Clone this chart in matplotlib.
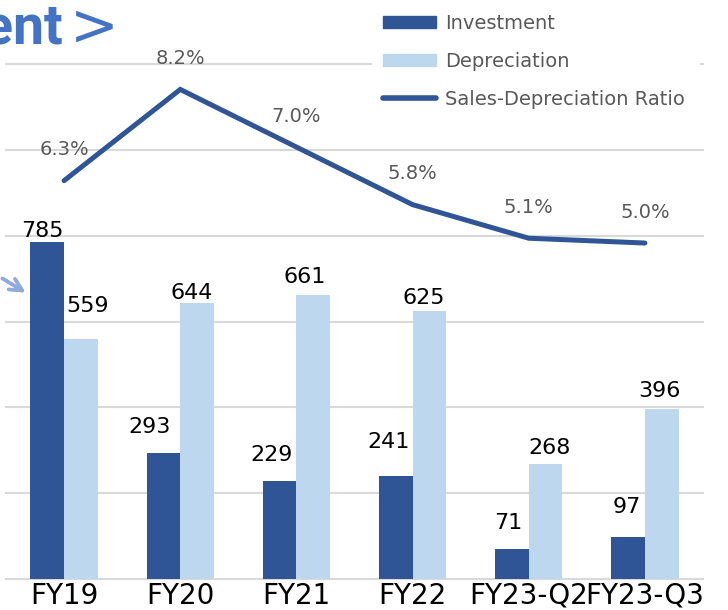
import numpy as np
import matplotlib
matplotlib.use("Agg")
import matplotlib.pyplot as plt
from matplotlib.patches import Patch, Rectangle
from matplotlib.lines import Line2D

# datos
periodos = ["FY19", "FY20", "FY21", "FY22", "FY23-Q2", "FY23-Q3"]
inversion = [785, 293, 229, 241, 71, 97]
depreciacion = [559, 644, 661, 625, 268, 396]
ratio = [6.3, 8.2, 7.0, 5.8, 5.1, 5.0]
ratio_txt = ["6.3%", "8.2%", "7.0%", "5.8%", "5.1%", "5.0%"]

# desplazamiento de etiquetas (pixeles)
off_inv = [(-5, 11), (-14, 26), (-8, 26), (-7, 34), (-4, 26), (-1, 30)]
off_dep = [(7, 33), (-5, 10), (-9, 18), (-6, 13), (4, 16), (-2, 18)]

azul = "#2F5597"
celeste = "#BDD7EE"
gris = "#595959"

W, H = 728, 610
fig = plt.figure(figsize=(W / 100, H / 100), dpi=100)
ax = fig.add_axes([6 / W, (H - 579) / H, (703 - 6) / W, (579 - 64) / H])

x = np.arange(len(periodos))
ancho = 0.29
b1 = ax.bar(x - ancho / 2, inversion, ancho, color=azul, zorder=2)
b2 = ax.bar(x + ancho / 2, depreciacion, ancho, color=celeste, zorder=2)

for i in range(len(x)):
    ax.annotate(str(inversion[i]), (x[i] - ancho / 2, inversion[i]),
                xytext=off_inv[i], textcoords="offset pixels",
                ha="center", va="center", fontsize=16, color="black")
    ax.annotate(str(depreciacion[i]), (x[i] + ancho / 2, depreciacion[i]),
                xytext=off_dep[i], textcoords="offset pixels",
                ha="center", va="center", fontsize=16, color="black")

ax.set_xlim(-0.5, 5.5)
ax.set_ylim(0, 1200)
ax.set_yticks(np.arange(0, 1201, 200))
ax.yaxis.grid(True, color="#D9D9D9", linewidth=1.5, zorder=0)
for gl in ax.get_ygridlines():
    gl.set_clip_on(False)
ax.set_axisbelow(True)
ax.set_xticks(x)
ax.set_xticklabels(periodos, fontsize=20)
for s in ax.spines.values():
    s.set_visible(False)

ax2 = ax.twinx()
ax2.plot(x, ratio, color=azul, linewidth=3.6, solid_capstyle="round",
         solid_joinstyle="miter", zorder=3)
ax2.set_ylim(-2.0, 8.73)
ax2.set_xlim(-0.5, 5.5)
for i in range(len(x)):
    ax2.annotate(ratio_txt[i], (x[i], ratio[i]), xytext=(0, 31),
                 textcoords="offset pixels", ha="center", va="center",
                 fontsize=14, color=gris)
ax2.axis("off")

# despues de twinx, si no vuelven los ticks
ax.tick_params(axis="y", left=False, right=False, labelleft=False, labelright=False)
ax.tick_params(axis="x", length=0, pad=2)

# fondo blanco de la leyenda (tapa la linea de grilla de arriba)
fig.add_artist(Rectangle((372 / W, 1 - 118 / H), (700 - 372) / W, 118 / H,
                         transform=fig.transFigure, facecolor="white",
                         edgecolor="none", zorder=1))

# titulo recortado
fig.text(63 / W, 1 - 43 / H, "ent", fontsize=40, fontweight="bold",
         family="Roboto", color="#4472C4", ha="right", va="baseline")
fig.text(70 / W, 1 - 28 / H, ">", fontsize=42, color="#4472C4",
         ha="left", va="center")

# flecha
fig.add_artist(plt.annotate("", xy=(28 / W, 1 - 294 / H), xytext=(0, 1 - 277 / H),
                            xycoords="figure fraction", textcoords="figure fraction",
                            arrowprops=dict(arrowstyle="->", color="#8FAADC", lw=2.5,
                                            mutation_scale=22)))

handles = [Patch(color=azul), Patch(color=celeste),
           Line2D([0], [0], color=azul, linewidth=4, solid_capstyle="round")]
etiquetas = ["Investment", "Depreciation", "Sales-Depreciation Ratio"]
fig.legend(handles, etiquetas, loc="upper left", bbox_to_anchor=(373 / W, 1 - 4 / H),
           frameon=False, borderpad=0, handlelength=2.73, handleheight=0.57,
           labelspacing=0.98, handletextpad=0.46, fontsize=14, labelcolor=gris)

plt.savefig("out.png", dpi=100)
